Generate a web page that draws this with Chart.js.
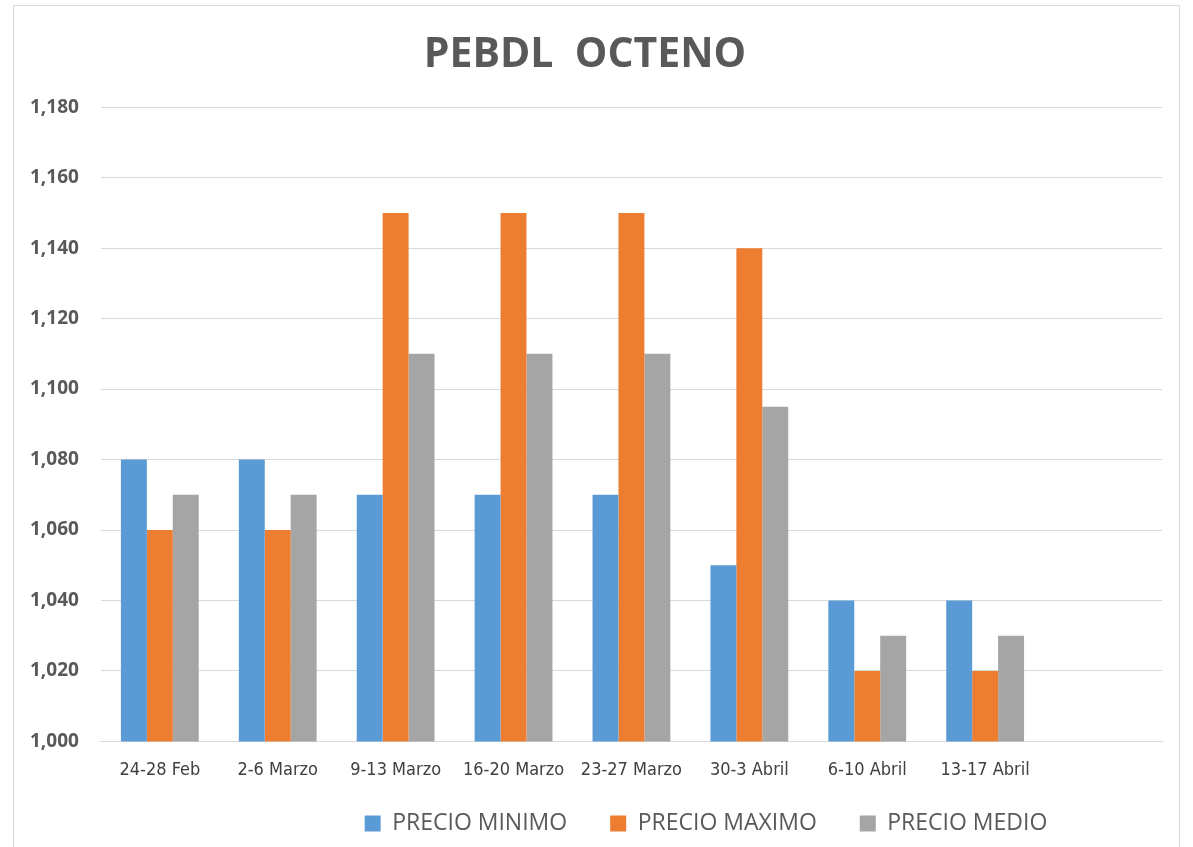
<!DOCTYPE html>
<html>
<head>
<meta charset="utf-8">
<script src="https://cdn.jsdelivr.net/npm/chart.js@4.4.1/dist/chart.umd.min.js"></script>
<style>
  html, body { margin: 0; padding: 0; background: #ffffff; }
  #frame {
    position: absolute; left: 13px; top: 5px;
    width: 1167px; height: 850px;
    border: 1px solid #d9d9d9; box-sizing: border-box;
  }
  #wrap { position: absolute; left: 0; top: 0; width: 1193px; height: 847px; }
</style>
</head>
<body>
<div id="frame"></div>
<div id="wrap"><canvas id="chart"></canvas></div>
<script>
// semanas (la última columna queda vacía, como en el original)
const semanas = ['24-28 Feb', '2-6 Marzo', '9-13 Marzo', '16-20 Marzo', '23-27 Marzo',
                 '30-3 Abril', '6-10 Abril', '13-17 Abril', ''];
const precioMinimo = [1080, 1080, 1070, 1070, 1070, 1050, 1040, 1040, null];
const precioMaximo = [1060, 1060, 1150, 1150, 1150, 1140, 1020, 1020, null];
const precioMedio  = [1070, 1070, 1110, 1110, 1110, 1095, 1030, 1030, null];

const TXT = '#595959';

// la leyenda del original está desplazada a la derecha y algo más arriba
const legendShift = {
    id: 'legendShift',
    afterLayout(chart) {
        const lg = chart.legend;
        if (!lg) return;
        lg.left += 121; lg.right += 121;
        lg.top -= 22; lg.bottom -= 22;
    }
};

new Chart(document.getElementById('chart'), {
    type: 'bar',
    data: {
        labels: semanas,
        datasets: [
            { label: 'PRECIO MINIMO', data: precioMinimo, backgroundColor: '#5b9bd5' },
            { label: 'PRECIO MAXIMO', data: precioMaximo, backgroundColor: '#ed7d31' },
            { label: 'PRECIO MEDIO',  data: precioMedio,  backgroundColor: '#a5a5a5' }
        ]
    },
    plugins: [legendShift],
    options: {
        responsive: true, maintainAspectRatio: false, animation: false,
        datasets: { bar: { categoryPercentage: 0.66, barPercentage: 1.0 } },
        layout: { padding: { left: 8, right: 31, top: 10, bottom: -20 } },
        plugins: {
            title: {
                display: true, text: 'PEBDL  OCTENO', color: TXT,
                font: { family: '"Open Sans", sans-serif', size: 41, weight: 'bold' },
                padding: { top: 21, bottom: 27 }
            },
            legend: {
                position: 'bottom',
                labels: {
                    color: TXT, boxWidth: 16, boxHeight: 16, padding: 43,
                    font: { family: '"Open Sans", sans-serif', size: 23 }
                }
            },
            tooltip: { enabled: false }
        },
        scales: {
            y: {
                min: 1000, max: 1180,
                ticks: {
                    stepSize: 20, color: TXT, padding: 22,
                    font: { family: '"Open Sans", sans-serif', size: 19, weight: 'bold' },
                    callback: v => v.toLocaleString('en-US')
                },
                border: { display: false },
                grid: { color: '#d9d9d9', drawTicks: false }
            },
            x: {
                ticks: {
                    color: '#404040', padding: 10, maxRotation: 0, autoSkip: false,
                    font: { family: '"DejaVu Sans Condensed", sans-serif', size: 18 }
                },
                border: { color: '#d9d9d9' },
                grid: { display: false }
            }
        }
    }
});
</script>
</body>
</html>
